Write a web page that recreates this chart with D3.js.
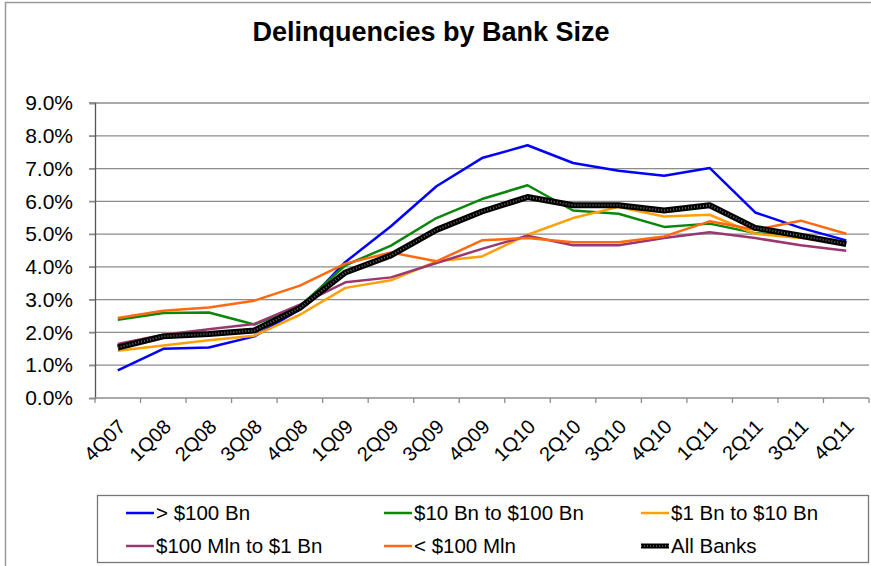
<!DOCTYPE html>
<html>
<head>
<meta charset="utf-8">
<script src="https://cdn.jsdelivr.net/npm/d3@7"></script>
<style>
  body { margin: 0; background: #fff; }
  svg { display: block; font-family: "Liberation Sans", Arial, sans-serif; }
</style>
</head>
<body>
<div id="chart"></div>
<script>
// quarters on the x axis
const quarters = ['4Q07', '1Q08', '2Q08', '3Q08', '4Q08', '1Q09', '2Q09', '3Q09', '4Q09',
    '1Q10', '2Q10', '3Q10', '4Q10', '1Q11', '2Q11', '3Q11', '4Q11'];

// delinquency rates in percent
const over100Bn = [0.84, 1.50, 1.54, 1.88, 2.70, 4.15, 5.24, 6.46, 7.32, 7.71, 7.17, 6.93, 6.78, 7.02, 5.66, 5.19, 4.81];
const bn10to100 = [2.39, 2.59, 2.61, 2.24, 2.80, 4.05, 4.65, 5.49, 6.07, 6.49, 5.72, 5.62, 5.22, 5.32, 5.03, 4.93, 4.73];
const bn1to10 = [1.44, 1.60, 1.76, 1.90, 2.54, 3.36, 3.59, 4.17, 4.32, 4.98, 5.49, 5.83, 5.54, 5.59, 5.01, 4.88, 4.73];
const mln100to1Bn = [1.65, 1.93, 2.10, 2.26, 2.85, 3.53, 3.68, 4.12, 4.55, 4.95, 4.66, 4.66, 4.88, 5.06, 4.88, 4.66, 4.49];
const under100Mln = [2.44, 2.66, 2.76, 2.97, 3.43, 4.10, 4.44, 4.17, 4.81, 4.88, 4.75, 4.75, 4.93, 5.39, 5.13, 5.41, 5.01];
const allBanks = [1.54, 1.88, 1.95, 2.06, 2.75, 3.83, 4.35, 5.13, 5.69, 6.13, 5.88, 5.88, 5.72, 5.88, 5.19, 4.95, 4.70];

const yTicks = [0, 1, 2, 3, 4, 5, 6, 7, 8, 9];

const series = [
    { name: '> $100 Bn', values: over100Bn, color: '#0000ff' },
    { name: '$10 Bn to $100 Bn', values: bn10to100, color: '#0a870a' },
    { name: '$1 Bn to $10 Bn', values: bn1to10, color: '#ffa00a' },
    { name: '$100 Mln to $1 Bn', values: mln100to1Bn, color: '#993870' },
    { name: '< $100 Mln', values: under100Mln, color: '#ff6a10' },
    { name: 'All Banks', values: allBanks, color: '#000', thick: true }
];

const width = 871, height = 566;
const plot = { left: 95, right: 869, top: 103, bottom: 398 };

const svg = d3.select('#chart').append('svg')
    .attr('width', width)
    .attr('height', height);

// outer chart frame
svg.append('rect')
    .attr('x', 5.5).attr('y', 2.5)
    .attr('width', 900).attr('height', 600)
    .attr('fill', '#fff')
    .attr('stroke', '#9a9a9a')
    .attr('stroke-width', 1.5);

svg.append('text')
    .attr('x', 431).attr('y', 41)
    .attr('text-anchor', 'middle')
    .style('font-size', '27px')
    .style('font-weight', 'bold')
    .text('Delinquencies by Bank Size');

const x = d3.scaleBand()
    .domain(quarters)
    .range([plot.left, plot.right]);

const y = d3.scaleLinear()
    .domain([0, 9])
    .range([plot.bottom, plot.top]);

// gridlines
svg.append('g')
    .selectAll('line')
    .data(yTicks.slice(1))
    .join('line')
    .attr('x1', plot.left - 6).attr('x2', plot.right)
    .attr('y1', d => y(d)).attr('y2', d => y(d))
    .attr('stroke', '#8c8c8c')
    .attr('stroke-width', 1.3);

// y axis
const yAxis = svg.append('g')
    .attr('transform', `translate(${plot.left},0)`)
    .call(d3.axisLeft(y).tickValues(yTicks).tickSize(6).tickFormat(d => d.toFixed(1) + '%'));
yAxis.select('.domain').attr('stroke', '#555').attr('stroke-width', 1.3);
yAxis.selectAll('.tick line').attr('stroke', '#8c8c8c').attr('stroke-width', 1.3);
yAxis.selectAll('text')
    .attr('x', -22)
    .attr('fill', '#000')
    .style('font-size', '21px')
    .style('font-family', '"Liberation Sans", Arial, sans-serif');

// x axis with ticks between categories
const xAxisG = svg.append('g');
xAxisG.append('line')
    .attr('x1', plot.left).attr('x2', plot.right)
    .attr('y1', plot.bottom).attr('y2', plot.bottom)
    .attr('stroke', '#8c8c8c')
    .attr('stroke-width', 1.5);
const tickXs = quarters.map(q => x(q)).concat([plot.right]);
xAxisG.selectAll('.xt')
    .data(tickXs)
    .join('line')
    .attr('class', 'xt')
    .attr('x1', d => d).attr('x2', d => d)
    .attr('y1', plot.bottom).attr('y2', plot.bottom + 5)
    .attr('stroke', '#8c8c8c')
    .attr('stroke-width', 1.3);
xAxisG.selectAll('.xl')
    .data(quarters)
    .join('text')
    .attr('class', 'xl')
    .attr('transform', d => `translate(${x(d) + x.bandwidth() / 2 + 9},428) rotate(-45)`)
    .attr('text-anchor', 'end')
    .style('font-size', '20px')
    .text(d => d);

const line = d3.line()
    .x((d, i) => x(quarters[i]) + x.bandwidth() / 2)
    .y(d => y(d));

const lines = svg.append('g').attr('fill', 'none');
series.forEach(s => {
    if (s.thick) {
        lines.append('path')
            .attr('d', line(s.values))
            .attr('stroke', '#000')
            .attr('stroke-width', 6)
            .attr('stroke-linejoin', 'round');
        lines.append('path')
            .attr('d', line(s.values))
            .attr('stroke', '#6a6a6a')
            .attr('stroke-width', 2)
            .attr('stroke-dasharray', '1 2');
    } else {
        lines.append('path')
            .attr('d', line(s.values))
            .attr('stroke', s.color)
            .attr('stroke-width', 2.5)
            .attr('stroke-linejoin', 'round');
    }
});

// legend
const legend = svg.append('g');
legend.append('rect')
    .attr('x', 97.5).attr('y', 495.5)
    .attr('width', 771).attr('height', 67)
    .attr('fill', '#fff')
    .attr('stroke', '#777')
    .attr('stroke-width', 1.3);

const colX = [126, 384, 641];
const rowY = [513, 546];
series.forEach((s, i) => {
    const lx = colX[i % 3];
    const ly = rowY[Math.floor(i / 3)];
    const g = legend.append('g');
    if (s.thick) {
        g.append('line')
            .attr('x1', lx).attr('x2', lx + 28).attr('y1', ly).attr('y2', ly)
            .attr('stroke', '#000').attr('stroke-width', 5);
        g.append('line')
            .attr('x1', lx).attr('x2', lx + 28).attr('y1', ly).attr('y2', ly)
            .attr('stroke', '#6a6a6a').attr('stroke-width', 1.5).attr('stroke-dasharray', '1 2');
    } else {
        g.append('line')
            .attr('x1', lx).attr('x2', lx + 28).attr('y1', ly).attr('y2', ly)
            .attr('stroke', s.color).attr('stroke-width', 2.5);
    }
    g.append('text')
        .attr('x', lx + 30).attr('y', ly)
        .attr('dy', '0.35em')
        .style('font-size', '20.5px')
        .text(s.name);
});
</script>
</body>
</html>
